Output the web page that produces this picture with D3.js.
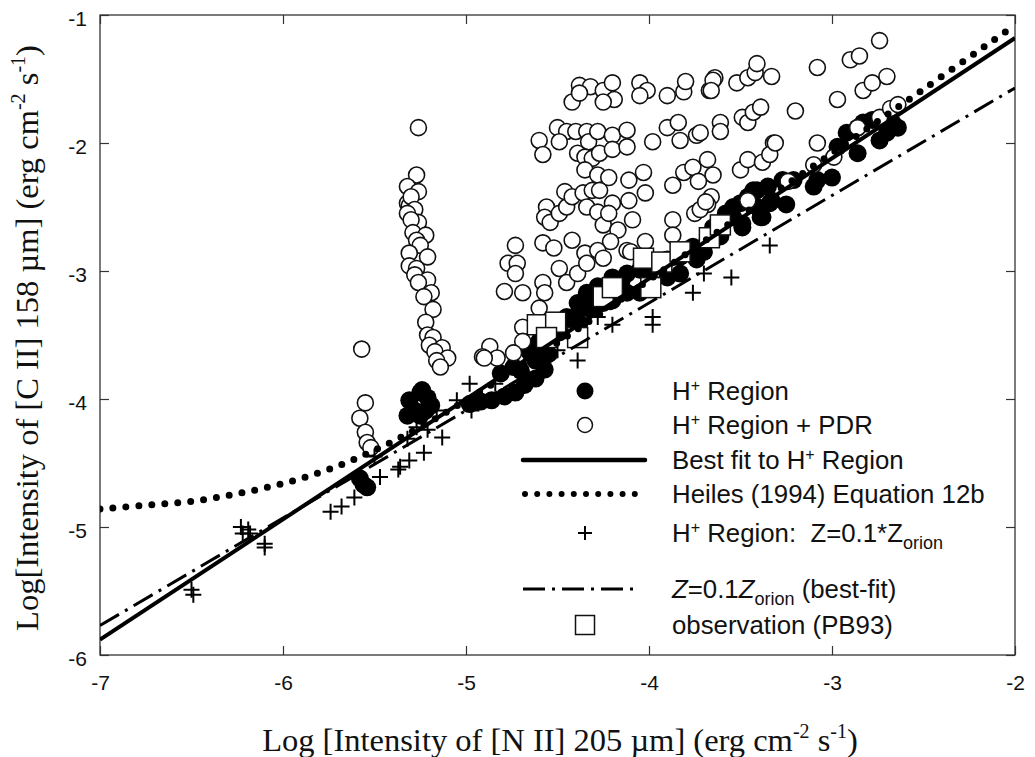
<!DOCTYPE html>
<html>
<head>
<meta charset="utf-8">
<script src="https://cdn.jsdelivr.net/npm/d3@7"></script>
<style>
    body { margin: 0; background: #fff; }
    svg text { white-space: pre; }
</style>
</head>
<body>
<div id="chart"></div>
<script>
// --- data ---
const xTicks = [-7, -6, -5, -4, -3, -2];
const yTicks = [-1, -2, -3, -4, -5, -6];

// H+ Region (filled circles)
const hiiRegion = [
    [-5.56,-4.67],[-5.54,-4.69],[-5.58,-4.62],
    [-5.31,-4.01],[-5.25,-3.95],[-5.21,-3.99],[-5.28,-4.09],[-5.22,-4.09],[-5.19,-4.05],[-5.32,-4.13],[-5.25,-4.13],[-5.24,-3.93],
    [-4.98,-4.04],[-4.92,-4.02],[-4.86,-4.01],[-4.79,-3.98],[-4.73,-3.95],[-4.68,-3.89],[-4.62,-3.84],[-4.57,-3.77],
    [-4.81,-3.80],[-4.74,-3.75],[-4.70,-3.78],[-4.62,-3.70],[-4.65,-3.64],[-4.56,-3.59],[-4.55,-3.65],[-4.60,-3.55],
    [-4.52,-3.50],[-4.49,-3.48],[-4.45,-3.45],[-4.45,-3.36],[-4.38,-3.41],[-4.40,-3.35],[-4.39,-3.25],[-4.34,-3.17],
    [-4.32,-3.30],[-4.30,-3.22],[-4.28,-3.12],[-4.25,-3.25],[-4.20,-3.05],[-4.20,-3.23],[-4.16,-3.15],[-4.15,-3.08],
    [-4.12,-3.02],[-4.12,-3.17],[-4.05,-2.99],[-4.05,-3.17],[-4.00,-3.05],[-3.98,-2.97],[-3.95,-2.95],[-3.90,-2.91],
    [-3.90,-3.05],[-3.83,-2.89],[-3.83,-3.02],[-3.76,-2.81],[-3.74,-2.91],[-3.70,-2.85],[-3.68,-2.76],[-3.65,-2.66],
    [-3.61,-2.73],[-3.60,-2.62],[-3.58,-2.55],[-3.54,-2.58],[-3.54,-2.50],[-3.50,-2.47],[-3.49,-2.63],[-3.49,-2.66],
    [-3.46,-2.42],[-3.43,-2.37],[-3.41,-2.50],[-3.41,-2.37],[-3.39,-2.58],[-3.38,-2.58],[-3.35,-2.34],[-3.34,-2.47],
    [-3.33,-2.45],[-3.27,-2.29],[-3.25,-2.48],[-3.21,-2.29],[-3.10,-2.34],[-3.08,-2.29],[-3.00,-2.27],[-2.97,-2.03],
    [-2.92,-1.92],[-2.86,-1.88],[-2.86,-2.08],[-2.83,-1.84],[-2.78,-1.82],[-2.74,-1.98],[-2.70,-1.92],[-2.67,-1.84],
    [-2.64,-1.88]
];

// H+ Region + PDR (open circles)
const hiiPdr = [
    // column near -5.25
    [-5.26,-1.88],[-5.27,-2.25],[-5.32,-2.34],[-5.26,-2.38],[-5.32,-2.47],[-5.31,-2.49],[-5.30,-2.42],[-5.28,-2.52],
    [-5.32,-2.55],[-5.26,-2.62],[-5.30,-2.60],[-5.29,-2.70],[-5.22,-2.72],[-5.27,-2.76],[-5.25,-2.80],[-5.31,-2.86],
    [-5.21,-2.89],[-5.31,-2.96],[-5.27,-2.98],[-5.28,-3.03],[-5.21,-3.07],[-5.26,-3.09],[-5.19,-3.17],[-5.23,-3.20],
    [-5.18,-3.30],[-5.22,-3.40],[-5.21,-3.50],[-5.18,-3.52],[-5.20,-3.58],[-5.13,-3.60],[-5.17,-3.63],[-5.10,-3.68],
    [-5.16,-3.70],[-5.14,-3.75],
    [-5.57,-3.61],[-5.55,-4.03],[-5.58,-4.15],[-5.55,-4.26],[-5.54,-4.34],[-5.52,-4.38],
    // top row
    [-4.38,-1.55],[-4.32,-1.56],[-4.25,-1.59],[-4.20,-1.53],[-4.19,-1.66],[-4.42,-1.68],[-4.38,-1.61],[-4.25,-1.68],
    [-4.05,-1.53],[-4.01,-1.59],[-4.05,-1.63],[-3.90,-1.63],[-3.81,-1.60],[-3.80,-1.52],[-3.67,-1.59],[-3.64,-1.49],
    [-3.52,-1.53],[-3.46,-1.49],[-3.42,-1.45],[-3.41,-1.38],[-3.33,-1.48],[-3.65,-1.51],[-3.66,-1.59],
    [-3.08,-1.41],[-2.90,-1.35],[-2.85,-1.32],[-2.74,-1.20],[-2.97,-1.66],[-2.83,-1.59],[-2.78,-1.53],[-2.70,-1.48],
    // second row
    [-4.60,-1.98],[-4.58,-2.09],[-4.50,-1.88],[-4.45,-1.91],[-4.49,-1.99],[-4.40,-1.91],[-4.39,-2.08],[-4.34,-1.91],
    [-4.33,-1.99],[-4.28,-1.91],[-4.35,-2.11],[-4.31,-2.12],[-4.27,-2.08],[-4.20,-1.94],[-4.20,-2.05],[-4.12,-1.90],
    [-4.12,-2.03],[-4.35,-2.21],[-4.28,-2.25],[-4.22,-2.27],[-4.11,-2.29],[-4.03,-2.23],[-3.98,-1.99],[-3.90,-1.88],
    [-3.84,-1.84],[-3.83,-1.98],[-3.74,-1.94],[-3.72,-1.92],[-3.61,-1.84],[-3.61,-1.91],[-3.49,-1.80],[-3.46,-1.84],
    [-3.43,-1.76],[-3.39,-1.72],[-3.20,-1.75],[-3.87,-2.33],[-3.81,-2.23],[-3.76,-2.19],[-3.68,-2.13],[-3.65,-2.25],
    [-3.73,-2.30],[-3.50,-2.21],[-3.46,-2.13],[-3.38,-2.15],[-3.32,-2.00],[-3.34,-2.09],[-3.31,-2.00],
    [-3.08,-2.00],[-2.86,-1.88],[-2.74,-1.80],[-2.68,-1.73],[-2.64,-1.70],[-3.24,-2.30],[-2.99,-2.11],[-3.10,-2.17],
    // third row
    [-4.56,-2.50],[-4.57,-2.58],[-4.54,-2.62],[-4.49,-2.55],[-4.45,-2.50],[-4.46,-2.38],[-4.42,-2.42],[-4.36,-2.39],
    [-4.31,-2.37],[-4.27,-2.37],[-4.34,-2.50],[-4.28,-2.54],[-4.25,-2.64],[-4.20,-2.47],[-4.22,-2.55],[-4.11,-2.45],
    [-4.09,-2.60],[-4.02,-2.39],[-4.17,-2.68],[-4.21,-2.77],[-4.12,-2.84],[-4.02,-2.77],[-3.87,-2.60],[-3.87,-2.72],
    [-3.75,-2.55],[-3.66,-2.42],[-3.68,-2.48],[-3.72,-2.52],[-3.69,-2.46],[-3.46,-2.45],
    // fourth row and lower edge
    [-4.73,-2.80],[-4.58,-2.78],[-4.52,-2.82],[-4.42,-2.76],[-4.35,-2.86],[-4.28,-2.84],[-4.25,-2.90],[-4.10,-2.85],
    [-4.77,-2.94],[-4.72,-2.94],[-4.73,-3.02],[-4.79,-3.16],[-4.69,-3.17],[-4.58,-3.09],[-4.57,-3.17],[-4.49,-2.98],
    [-4.45,-3.09],[-4.39,-3.02],[-4.34,-2.94],[-4.60,-3.29],[-4.69,-3.44],[-4.69,-3.55],[-4.87,-3.59],[-4.83,-3.68],
    [-4.74,-3.64],[-4.91,-3.67],[-4.90,-3.68]
];

// H+ Region, Z = 0.1 Z_orion (crosses)
const lowZ = [
    [-6.50,-5.49],[-6.49,-5.53],[-6.23,-5.00],[-6.19,-5.02],[-6.22,-5.05],[-6.18,-5.05],[-6.10,-5.13],[-6.10,-5.16],
    [-5.74,-4.88],[-5.68,-4.84],[-5.61,-4.77],[-5.54,-4.67],[-5.50,-4.45],[-5.47,-4.61],[-5.37,-4.55],[-5.36,-4.53],
    [-5.31,-4.48],[-5.23,-4.42],[-5.32,-4.31],[-5.27,-4.22],[-5.21,-4.24],[-5.13,-4.30],[-5.16,-4.09],[-5.05,-4.01],
    [-4.97,-4.09],[-4.98,-3.88],[-4.84,-3.88],[-4.72,-3.93],[-4.60,-3.72],[-4.50,-3.62],[-4.39,-3.70],[-4.28,-3.36],
    [-4.20,-3.42],[-3.98,-3.36],[-3.98,-3.42],[-3.76,-3.17],[-3.70,-3.02],[-3.55,-3.05],[-3.34,-2.80]
];

// observation (PB93) squares
const pb93 = [
    [-4.61,-3.42],[-4.51,-3.40],[-4.56,-3.52],[-4.39,-3.52],[-4.25,-3.20],[-4.20,-3.13],
    [-4.03,-2.90],[-3.99,-3.13],[-3.93,-2.93],[-3.83,-2.85],[-3.67,-2.74],[-3.61,-2.64]
];

const bestFit = [[-7, -5.88], [-2, -1.18]];
const lowZFit = [[-7, -5.77], [-2, -1.57]];
const heiles = [
    [-7,-4.86],[-6.75,-4.83],[-6.5,-4.80],[-6.25,-4.74],[-6,-4.66],[-5.75,-4.55],[-5.5,-4.40],
    [-5.25,-4.22],[-5,-4.01],[-4.5,-3.56],[-4,-3.07],[-3.5,-2.57],[-3,-2.08],[-2.5,-1.58],[-2,-1.08]
];

const legendItems = [
    { type: "filled", parts: [["H"], ["+", "sup"], [" Region"]] },
    { type: "open", parts: [["H"], ["+", "sup"], [" Region + PDR"]] },
    { type: "solid", parts: [["Best fit to H"], ["+", "sup"], [" Region"]] },
    { type: "dots", parts: [["Heiles (1994) Equation 12b"]] },
    { type: "cross", parts: [["H"], ["+", "sup"], [" Region:  Z=0.1*Z"], ["orion", "sub"]] },
    { type: "dashdot", parts: [["Z", "it"], ["=0.1"], ["Z", "it"], ["orion", "sub"], [" (best-fit)"]] },
    { type: "square", parts: [["observation (PB93)"]] }
];
const legendRows = [391, 425, 460, 494, 533, 589, 625];

// --- layout ---
const W = 1035, H = 757;
const margin = { left: 100, right: 1015, top: 15, bottom: 655 };
const sans = "'Liberation Sans', Arial, sans-serif";
const serif = "'Liberation Serif', 'Times New Roman', serif";

const svg = d3.select("#chart").append("svg")
    .attr("width", W).attr("height", H);

const x = d3.scaleLinear().domain([-7, -2]).range([margin.left, margin.right]);
const y = d3.scaleLinear().domain([-6, -1]).range([margin.bottom, margin.top]);

svg.append("clipPath").attr("id", "plotclip")
    .append("rect").attr("x", margin.left).attr("y", margin.top)
    .attr("width", margin.right - margin.left).attr("height", margin.bottom - margin.top);

const fmt = d => String(d);

// axes, ticks pointing in
svg.append("g").attr("transform", `translate(0,${margin.bottom})`)
    .call(d3.axisBottom(x).tickValues(xTicks).tickFormat(fmt).tickSize(-9).tickPadding(20));
svg.append("g").attr("transform", `translate(0,${margin.top})`)
    .call(d3.axisTop(x).tickValues(xTicks).tickFormat("").tickSize(-9));
const gy = svg.append("g").attr("transform", `translate(${margin.left},0)`)
    .call(d3.axisLeft(y).tickValues(yTicks).tickFormat(fmt).tickSize(-9).tickPadding(13));
svg.append("g").attr("transform", `translate(${margin.right},0)`)
    .call(d3.axisRight(y).tickValues(yTicks).tickFormat("").tickSize(-9));

svg.selectAll(".domain").remove();
svg.selectAll(".tick line").attr("stroke", "#333").attr("stroke-width", 1.2);
svg.selectAll(".tick text")
    .style("font-family", sans)
    .attr("font-size", 21).attr("fill", "#111");
gy.selectAll(".tick text").attr("dy", "0.52em");

svg.append("rect")
    .attr("x", margin.left).attr("y", margin.top)
    .attr("width", margin.right - margin.left).attr("height", margin.bottom - margin.top)
    .attr("fill", "none").attr("stroke", "#333").attr("stroke-width", 1.3);

// --- marks ---
const plot = svg.append("g").attr("clip-path", "url(#plotclip)");

plot.selectAll(".filled").data(hiiRegion).join("circle")
    .attr("class", "filled")
    .attr("cx", d => x(d[0])).attr("cy", d => y(d[1]))
    .attr("r", 9).attr("fill", "#000");

plot.selectAll(".open").data(hiiPdr).join("circle")
    .attr("class", "open")
    .attr("cx", d => x(d[0])).attr("cy", d => y(d[1]))
    .attr("r", 8).attr("fill", "#fff").attr("stroke", "#111").attr("stroke-width", 1.6);

const crossPath = "M-8,0H8M0,-8V8";
plot.selectAll(".cross").data(lowZ).join("path")
    .attr("class", "cross")
    .attr("transform", d => `translate(${x(d[0])},${y(d[1])})`)
    .attr("d", crossPath)
    .attr("stroke", "#000").attr("stroke-width", 2);

plot.selectAll(".sq").data(pb93).join("rect")
    .attr("class", "sq")
    .attr("x", d => x(d[0]) - 10).attr("y", d => y(d[1]) - 10)
    .attr("width", 20).attr("height", 20)
    .attr("fill", "#fff").attr("stroke", "#111").attr("stroke-width", 1.5);

const line = d3.line().x(d => x(d[0])).y(d => y(d[1]));

plot.append("path").datum(heiles)
    .attr("d", line.curve(d3.curveCatmullRom))
    .attr("fill", "none").attr("stroke", "#000")
    .attr("stroke-width", 7).attr("stroke-linecap", "round")
    .attr("stroke-dasharray", "0 13");

line.curve(d3.curveLinear);
plot.append("path").datum(bestFit)
    .attr("d", line)
    .attr("fill", "none").attr("stroke", "#000").attr("stroke-width", 4);

plot.append("path").datum(lowZFit)
    .attr("d", line)
    .attr("fill", "none").attr("stroke", "#000").attr("stroke-width", 3)
    .attr("stroke-dasharray", "22 7 3 7");

// --- legend ---
const legend = svg.append("g");
const symX = 585, lineX0 = 523, lineX1 = 645, textX = 672;

legendItems.forEach((item, i) => {
    const cy = legendRows[i];
    const g = legend.append("g");
    if (item.type === "filled") {
        g.append("circle").attr("cx", symX).attr("cy", cy).attr("r", 8.5).attr("fill", "#000");
    } else if (item.type === "open") {
        g.append("circle").attr("cx", symX).attr("cy", cy).attr("r", 7.5)
            .attr("fill", "#fff").attr("stroke", "#111").attr("stroke-width", 1.5);
    } else if (item.type === "solid") {
        g.append("line").attr("x1", lineX0).attr("x2", lineX1).attr("y1", cy).attr("y2", cy)
            .attr("stroke", "#000").attr("stroke-width", 4.5).attr("stroke-linecap", "round");
    } else if (item.type === "dots") {
        g.append("line").attr("x1", lineX0 + 2).attr("x2", lineX1).attr("y1", cy).attr("y2", cy)
            .attr("stroke", "#000").attr("stroke-width", 6).attr("stroke-linecap", "round")
            .attr("stroke-dasharray", "0 12.2");
    } else if (item.type === "cross") {
        g.append("path").attr("transform", `translate(${symX},${cy})`)
            .attr("d", "M-7,0H7M0,-7V7").attr("stroke", "#000").attr("stroke-width", 2);
    } else if (item.type === "dashdot") {
        g.append("line").attr("x1", lineX0).attr("x2", lineX1 - 8).attr("y1", cy).attr("y2", cy)
            .attr("stroke", "#000").attr("stroke-width", 3)
            .attr("stroke-dasharray", "22 7 3 7");
    } else if (item.type === "square") {
        g.append("rect").attr("x", symX - 9.5).attr("y", cy - 9.5).attr("width", 19).attr("height", 19)
            .attr("fill", "#fff").attr("stroke", "#111").attr("stroke-width", 1.5);
    }

    const t = g.append("text").attr("x", textX).attr("y", cy + 9)
        .style("font-family", sans)
        .attr("font-size", 25.8).attr("fill", "#111");
    let shift = 0;
    item.parts.forEach(([txt, kind]) => {
        const span = t.append("tspan").text(txt);
        let target = 0;
        if (kind === "sup") { span.attr("font-size", 16); target = -9; }
        else if (kind === "sub") { span.attr("font-size", 18); target = 7; }
        else if (kind === "it") { span.attr("font-style", "italic"); }
        span.attr("dy", target - shift);
        shift = target;
    });
});

// --- axis titles ---
function addTitle(parts, attrs) {
    const t = svg.append("text")
        .style("font-family", serif)
        .attr("font-size", 32.5).attr("fill", "#111")
        .attr("text-anchor", "middle");
    Object.entries(attrs).forEach(([k, v]) => t.attr(k, v));
    let shift = 0;
    parts.forEach(([txt, kind]) => {
        const span = t.append("tspan").text(txt);
        let target = 0;
        if (kind === "sup") { span.attr("font-size", 20); target = -13; }
        span.attr("dy", target - shift);
        shift = target;
    });
    return t;
}

addTitle([["Log [Intensity of [N II] 205 \u00b5m] (erg cm"], ["-2", "sup"], [" s"], ["-1", "sup"], [")"]],
    { x: 560, y: 751 });
addTitle([["Log[Intensity of [C II] 158 \u00b5m] (erg cm"], ["-2", "sup"], [" s"], ["-1", "sup"], [")"]],
    { transform: "translate(38,338) rotate(-90)" });
</script>
</body>
</html>
